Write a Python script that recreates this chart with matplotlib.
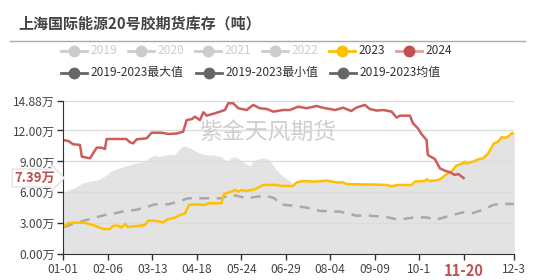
import matplotlib
matplotlib.use("Agg")
import matplotlib.pyplot as plt
from matplotlib.lines import Line2D
import numpy as np

plt.rcParams['font.family'] = ['Noto Sans CJK SC', 'DejaVu Sans']

# ---- data (day index in 2024 calendar, value in 万吨) ----
days_2024 = [0, 4, 8, 13.5, 15, 21.6, 27, 31, 33.7, 35, 51, 54, 56.6, 59.4, 67.5, 71.5, 79.6, 85, 91.7,
             97, 99.8, 104, 106.6, 110.6, 113.3, 116, 122.7, 130.8, 133.5, 137.5, 141.6, 148.4, 153.7,
             159, 164.6, 170, 178, 183.4, 190, 197, 205, 210, 220, 226.5, 233, 237, 244, 248, 253.6,
             259, 265.7, 269.7, 272.4, 280.5, 283, 287, 290, 294, 295, 300.7, 304.8, 308.8, 312.9,
             317, 319.6, 324]
vals_2024 = [11.07, 10.98, 10.66, 10.6, 9.46, 9.3, 10.33, 10.33, 10.2, 11.17, 11.17, 10.85, 10.75, 11.14,
             11.24, 11.78, 11.78, 11.66, 11.7, 11.88, 13.0, 13.1, 13.33, 13.0, 13.76, 13.43, 13.66,
             13.98, 14.63, 14.63, 14.15, 13.98, 14.47, 14.15, 14.08, 13.82, 13.98, 13.98, 14.3, 14.15,
             14.37, 14.2, 13.98, 14.2, 13.88, 14.2, 14.47, 14.08, 13.92, 13.98, 13.82, 13.24, 13.43,
             13.43, 12.69, 12.2, 11.63, 11.07, 9.62, 9.23, 8.33, 8.1, 7.95, 7.68, 7.78, 7.39]

days_2023 = [0, 4, 9.5, 17.6, 25.6, 32.4, 37.8, 40.5, 44.5, 46.7, 50, 52, 58, 66, 68.8, 74, 81, 85, 90.4,
             94.4, 98.5, 101.7, 106.6, 114.6, 117.3, 128, 130, 136, 139, 141.6, 144.3, 148, 155, 161.8,
             172.6, 176.7, 186, 188.8, 194, 203.6, 213, 221, 226.5, 229, 240, 253.6, 261.6, 265.7, 271,
             281.9, 284.5, 292.6, 294, 296.7, 303.4, 306, 310, 314, 318, 322, 325, 326, 331.7, 335.7,
             339.8, 343.9, 348.5, 352, 354.7, 358.7, 360.8, 362.8, 365]
vals_2023 = [2.68, 3.0, 3.06, 3.06, 2.77, 2.45, 2.45, 2.77, 2.77, 2.58, 2.94, 2.65, 2.71, 2.84, 3.26, 3.26,
             3.1, 3.42, 3.55, 3.81, 3.97, 4.78, 4.84, 4.78, 4.94, 4.94, 5.84, 6.07, 6.23, 6.07, 6.23,
             6.13, 6.3, 6.72, 6.72, 6.62, 6.62, 6.97, 7.1, 7.04, 7.14, 6.97, 6.97, 6.81, 6.78, 6.75,
             6.72, 6.59, 6.72, 6.72, 7.04, 7.1, 7.27, 7.1, 7.2, 7.36, 7.75, 8.0, 8.59, 8.75, 8.97, 8.78,
             8.97, 9.2, 9.3, 9.79, 10.75, 10.91, 11.34, 11.3, 11.49, 11.72, 11.72]

days_mean = [0, 9.5, 17.6, 25.6, 33.7, 41.8, 50, 58, 66, 74, 85, 93, 101, 112, 128, 134.9, 140, 148.4,
             156.5, 164.6, 171, 175, 186, 197, 207.7, 224, 233, 237, 248, 261.6, 271, 286, 295, 300.7,
             310, 323.6, 331.7, 339.8, 348, 354.7, 362.8, 365]
vals_mean = [2.62, 3.0, 3.29, 3.55, 3.81, 3.97, 4.2, 4.29, 4.52, 4.84, 4.84, 5.1, 5.43, 5.43, 5.43, 5.75,
             5.68, 5.43, 5.58, 5.65, 5.43, 4.84, 4.71, 4.52, 4.2, 4.13, 3.88, 3.74, 3.74, 3.61, 3.35,
             3.61, 3.55, 3.32, 3.64, 4.07, 4.0, 4.32, 4.78, 4.9, 4.87, 4.87]

# max of 2019-2023 up to ~day 188; afterwards the max equals the 2023 series
days_max_early = [0, 4, 9.5, 15, 20, 28, 35, 37.8, 44.5, 50, 58, 66, 68.8, 74, 77, 82, 90.4, 95.8, 98.5,
                  104, 110.6, 117.3, 121, 128, 132, 137.5, 141.6, 147, 151, 153.7, 159, 164.6, 168.6,
                  172.6, 176.7, 182, 186]
vals_max_early = [5.91, 6.23, 6.45, 6.88, 7.04, 7.2, 7.68, 8.0, 8.33, 8.56, 8.82, 8.97, 9.3, 9.62, 9.46,
                  9.62, 9.69, 10.43, 10.52, 10.2, 9.79, 9.62, 9.62, 9.46, 8.97, 9.46, 9.3, 8.82, 8.59,
                  8.97, 9.3, 9.3, 8.82, 8.17, 7.68, 7.2, 6.88]

y_ticks = [0, 3, 6, 9, 12, 14.88]
y_labels = ['0.00万', '3.00万', '6.00万', '9.00万', '12.00万', '14.88万']
x_ticks = [0, 36, 72, 108, 144, 180, 216, 252, 288, 324, 365]
x_labels = ['01-01', '02-06', '03-13', '04-18', '05-24', '06-29', '08-04', '09-09', '10-1', '11-20', '12-3']
current_day = 324
current_val = 7.39

# ---- figure ----
W, H = 535, 280
fig = plt.figure(figsize=(W / 100, H / 100), dpi=100)
def fx(px): return px / W
def fy(py): return 1 - py / H

ax = fig.add_axes([fx(63.3), fy(254.3), fx(514.3) - fx(63.3), fy(100.7) - fy(254.3)])

max_days = days_max_early + [d for d in days_2023 if d > days_max_early[-1] + 1]
max_vals = vals_max_early + [v for d, v in zip(days_2023, vals_2023) if d > days_max_early[-1] + 1]
ax.fill_between(max_days, 0, max_vals, color='#e3e3e3', lw=0, zorder=1)

for yt in y_ticks[1:]:
    ax.axhline(yt, color='#dcdcdc', lw=1, zorder=1.5)

ax.plot(days_mean, vals_mean, color='#a9a9a9', lw=1.8, dashes=(4, 3), zorder=3)
ax.plot(days_2023, vals_2023, color='#FFC000', lw=1.8, zorder=4)
ax.plot(days_2024, vals_2024, color='#CD5C5C', lw=1.8, zorder=5)

ax.text(0.5 * (200 + 337) / 1, 0, '', transform=ax.transData)
fig.text(fx(268), fy(132), '紫金天风期货', color='#cfcfcf', fontsize=16.5,
         ha='center', va='center', zorder=6)

ax.set_xlim(0, 365)
ax.set_ylim(0, 14.88)
ax.set_yticks(y_ticks)
ax.set_yticklabels(y_labels)
ax.set_xticks(x_ticks)
ax.set_xticklabels(x_labels)
ax.tick_params(axis='both', colors='#333333', labelsize=8.6, length=4, width=1, direction='out')
ax.tick_params(axis='x', pad=2)
ax.tick_params(axis='y', pad=2)
for lab in ax.get_yticklabels():
    lab.set_color('#444444')
for lab in ax.get_xticklabels():
    lab.set_color('#444444')
hl = ax.get_xticklabels()[9]
hl.set_color('#C0504D')
hl.set_fontweight('bold')
hl.set_fontsize(10.5)

for s in ['top', 'right']:
    ax.spines[s].set_visible(False)
ax.spines['left'].set_color('#333333')
ax.spines['bottom'].set_color('#333333')
ax.spines['left'].set_zorder(6)
ax.spines['bottom'].set_zorder(6)

# y axis pointer label
ax.annotate(f'{current_val:.2f}万', xy=(0, current_val), xycoords=('axes fraction', 'data'),
            xytext=(-6, 0), textcoords='offset points', ha='right', va='center',
            color='#C0504D', fontsize=9.5, fontweight='bold',
            bbox=dict(boxstyle='rarrow,pad=0.15', fc='white', ec='#dddddd', lw=0.8),
            annotation_clip=False, zorder=10)

# title and separator
fig.text(fx(18), fy(23), '上海国际能源20号胶期货库存（吨）', fontsize=10.8, fontweight='bold',
         color='#444444', ha='left', va='center')
fig.add_artist(Line2D([fx(10), fx(525)], [fy(40.7), fy(40.7)], color='#aaaaaa', lw=1))

# legend
def legend_item(x0, y, label, lc, mc, tc):
    fig.add_artist(Line2D([fx(x0), fx(x0 + 26)], [fy(y), fy(y)], color=lc, lw=2))
    fig.add_artist(Line2D([fx(x0 + 13)], [fy(y)], marker='o', ms=7.5, color=mc, mec=mc, lw=0))
    fig.text(fx(x0 + 29.5), fy(y), label, color=tc, fontsize=8.6, ha='left', va='center')

dis = '#cccccc'
legend_item(61, 50.7, '2019', dis, dis, dis)
legend_item(128, 50.7, '2020', dis, dis, dis)
legend_item(195, 50.7, '2021', dis, dis, dis)
legend_item(262, 50.7, '2022', dis, dis, dis)
legend_item(329, 50.7, '2023', '#FFC000', '#FFC000', '#333333')
legend_item(396, 50.7, '2024', '#E0A09E', '#C0504D', '#333333')
legend_item(61, 72.7, '2019-2023最大值', '#666666', '#666666', '#333333')
legend_item(196, 72.7, '2019-2023最小值', '#666666', '#666666', '#333333')
legend_item(330, 72.7, '2019-2023均值', '#666666', '#666666', '#333333')

fig.savefig('out.png', dpi=100)
